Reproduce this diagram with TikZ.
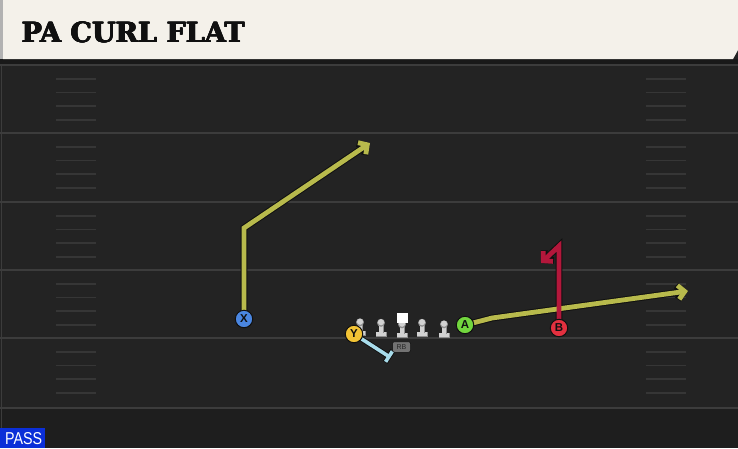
\documentclass[tikz,border=0pt]{standalone}
\usepackage{fontspec}
\usepackage{graphicx}
\usetikzlibrary{arrows.meta,calc}
\newfontfamily\titlefont{DejaVu Serif}
\newfontfamily\labelfont{Liberation Sans}
\definecolor{fieldbg}{HTML}{232323}
\definecolor{fieldlow}{HTML}{1E1E1E}
\definecolor{yardline}{HTML}{3C3C3C}
\definecolor{hashc}{HTML}{363636}
\definecolor{panel}{HTML}{F4F1EA}
\definecolor{routey}{HTML}{B8BA4C}
\definecolor{router}{HTML}{B3173B}
\definecolor{blockc}{HTML}{A8DCEB}
\definecolor{outl}{HTML}{101010}
\definecolor{pblue}{HTML}{4A86E0}
\definecolor{pyellow}{HTML}{F2C335}
\definecolor{pgreen}{HTML}{72D63E}
\definecolor{pred}{HTML}{E3303F}
\definecolor{passblue}{HTML}{0B2FD8}
\definecolor{linec}{HTML}{D2D2D2}
\definecolor{lined}{HTML}{8E8E8E}
\tikzset{
  yard/.style={draw=yardline,line width=1.6pt},
  hashmark/.style={draw=hashc,line width=1.3pt},
  player/.style={circle,minimum size=17.5pt,inner sep=0pt,draw=outl,line width=1pt,
    font=\labelfont\bfseries\fontsize{11.5}{11.5}\selectfont,text=outl},
  routeout/.style={draw=outl,line width=6.8pt,line join=miter,
    -{Straight Barb[length=6.5pt,width=14pt]}},
  routein/.style={line width=4.8pt,line join=miter,
    -{Straight Barb[length=6.5pt,width=14pt]}},
  lineman/.pic={
    \fill[lined] (-5.5,9) rectangle (5.5,14);
    \fill[linec] (-4.8,9) rectangle (4.8,13);
    \fill[lined] (-2.5,1) rectangle (2.5,10);
    \fill[linec] (-1.9,1) rectangle (1.9,10);
    \fill[lined] (0,0.3) circle (4);
    \fill[linec] (0,-0.3) circle (3.1);
  }
}
\begin{document}
\begin{tikzpicture}[x=1pt,y=-1pt]
\useasboundingbox (0,0) rectangle (738,448);
% field
\fill[fieldbg] (0,0) rectangle (738,448);
\fill[fieldlow] (0,408) rectangle (738,448);
\draw[draw=yardline,line width=1.4pt] (1.5,60) -- (1.5,448);
% yard lines
\foreach \yy in {65,133,202,270,338,408} {
  \draw[yard] (0,\yy) -- (738,\yy);
}
% hash marks
\foreach \yy in {65,133,202,270,338} {
  \foreach \dd in {14,27.3,41,55} {
    \draw[hashmark] (56,\yy+\dd) -- (96,\yy+\dd);
    \draw[hashmark] (646,\yy+\dd) -- (686,\yy+\dd);
  }
}
% header
\fill[black!90] (0,59) rectangle (738,63.5);
\fill[panel] (3,0) -- (738,0) -- (738,50) -- (733,59) -- (3,59) -- cycle;
\fill[black!30] (0,0) rectangle (3,59);
\foreach \ox/\oy in {0/0,0.45/0,0.9/0,0/0.4,0.45/0.4,0.9/0.4} {
  \node[anchor=south west,inner sep=0pt] at (21+\ox,43-\oy)
    {\resizebox{223pt}{20.6pt}{\titlefont\bfseries\color{outl}PA CURL FLAT}};
}
\node[anchor=south west,inner sep=0pt] (title) at (21,43) {\phantom{\resizebox{223pt}{20.6pt}{\titlefont\bfseries PA CURL FLAT}}};
% PASS tag
\fill[passblue] (0,428) rectangle (45,448);
\node[anchor=south west,inner sep=0pt] (pass) at (5,445)
  {\resizebox{37pt}{12pt}{\labelfont\color{white}PASS}};
% player positions
\coordinate (Xp) at (244,319);
\coordinate (Yp) at (354,334);
\coordinate (Ap) at (465,325);
\coordinate (Bp) at (559,328);
% route waypoints
\coordinate (xbreak) at (244,228);
\coordinate (xend) at (370,143);
\coordinate (abend) at (492,318);
\coordinate (aend) at (688,291);
\coordinate (btop) at (559,246);
\coordinate (bend) at (541,263);
\coordinate (yblk) at (389,356.5);
% routes: outlines
\draw[routeout] (Xp) -- (xbreak) -- (xend);
\draw[routeout] (Ap) -- (abend) -- (aend);
\draw[routeout] (Bp) -- (btop) -- (bend);
% routes: colour
\draw[routein,draw=routey] (Xp) -- (xbreak) -- (xend);
\draw[routein,draw=routey] (Ap) -- (abend) -- (aend);
\draw[routein,draw=router] (Bp) -- (btop) -- (bend);
% block
\draw[draw=outl,line width=5.4pt] (Yp) -- (yblk);
\draw[draw=outl,line width=5.4pt] ($(yblk)!7pt!90:(Yp)$) -- ($(yblk)!7pt!-90:(Yp)$);
\draw[draw=blockc,line width=3.6pt] (Yp) -- (yblk);
\draw[draw=blockc,line width=3.6pt] ($(yblk)!6.3pt!90:(Yp)$) -- ($(yblk)!6.3pt!-90:(Yp)$);
% offensive line
\pic at (360,322) {lineman};
\pic at (381,322.5) {lineman};
\pic at (422,322.5) {lineman};
\pic at (444,324) {lineman};
\pic at (402,324) {lineman};
\fill[white] (396.5,313) rectangle (407.5,323);
\node[draw=outl,line width=0.5pt,fill=black!55,rounded corners=2pt,minimum width=18pt,minimum height=10.5pt,
  inner sep=0pt,font=\labelfont\fontsize{7}{7}\selectfont,text=black!85] (rb) at (401.5,347) {RB};
% players
\node[player,fill=pblue] (X) at (Xp) {X};
\node[player,fill=pyellow] (Y) at (Yp) {Y};
\node[player,fill=pgreen] (A) at (Ap) {A};
\node[player,fill=pred] (B) at (Bp) {B};
\end{tikzpicture}
\end{document}
